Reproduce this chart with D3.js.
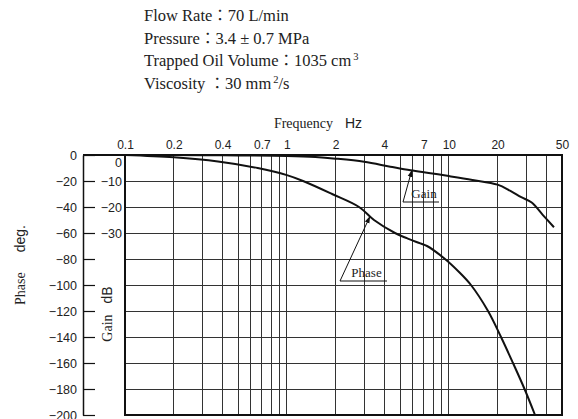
<!DOCTYPE html>
<html><head><meta charset="utf-8">
<script src="https://cdn.jsdelivr.net/npm/d3@7"></script>
<style>
body{margin:0;background:#fff;}
svg{display:block;}
</style></head>
<body><svg id="c" width="578" height="419"></svg>
<script>
const freqTickLabels = [0.1,0.2,0.4,0.7,1,2,4,7,10,20,50];
const freqGrid = [0.2,0.3,0.4,0.5,0.6,0.7,0.8,0.9,1,2,3,4,5,6,7,8,9,10,20,30,40];
const phaseTicks = [0,-20,-40,-60,-80,-100,-120,-140,-160,-180,-200];
const gainTicks = [0,-10,-20,-30];
const phaseFreq = [0.1,0.2,0.375,0.66,1,1.258,1.9,2.79,3.45,4.65,5.5,6.67,7.33,9.47,11.56,13.7,17.46,21,24.9,29.35,34.07];
const phaseVal  = [0,-1.8,-5,-10,-15.5,-20,-30,-40,-50,-60,-64,-68,-70,-80,-90,-100,-120,-140,-160,-180,-200];
const gainFreq = [0.1,0.3,0.5,1,1.5,2,3,4.35,5.8,7.7,10,14,20,24,28,32.5,38,44.6];
const gainVal  = [0,-0.05,-0.15,-0.4,-0.8,-1.4,-2.6,-4.5,-5.9,-7.0,-8.1,-9.6,-11.4,-13.8,-16.2,-18.3,-23,-27.8];
const infoKeys = ["Flow Rate","Pressure","Trapped Oil Volume","Viscosity "];
const infoVals = ["70 L/min","3.4 ± 0.7 MPa","1035 cm","30 mm"];

const svg = d3.select("#c");
const x = d3.scaleLog().domain([0.1,50]).range([125,562]);
const yP = d3.scaleLinear().domain([0,-200]).range([155,415]);
const yG = d3.scaleLinear().domain([0,-100]).range([155,415]);
const serif = "'Liberation Serif','Times New Roman',serif";
const sans = "'Liberation Sans',Arial,sans-serif";
const cjk = "'Noto Sans CJK JP','Noto Sans CJK SC',sans-serif";

// info text
const info = svg.append("g").attr("font-family",serif).attr("font-size",16.5).attr("fill","#222");
infoKeys.forEach((k,i)=>{
  const tx = info.append("text").attr("x",144).attr("y",21+i*22.5).attr("xml:space","preserve");
  tx.append("tspan").text(k);
  tx.append("tspan").attr("font-family",cjk).attr("font-size",15.5).text("：");
  tx.append("tspan").text(infoVals[i]);
  if(i===2){ tx.append("tspan").attr("font-size",10.5).attr("dy",-6).attr("dx",2).text("3"); }
  if(i===3){ tx.append("tspan").attr("font-size",10.5).attr("dy",-6).attr("dx",2).text("2");
             tx.append("tspan").attr("dy",6).text("/s"); }
});

// grid
const g = svg.append("g").attr("shape-rendering","crispEdges");
g.selectAll(".vg").data(freqGrid).join("line")
  .attr("x1",d=>x(d)).attr("x2",d=>x(d)).attr("y1",yP(0)).attr("y2",yP(-200))
  .attr("stroke","#333").attr("stroke-width",1);
g.selectAll(".hg").data(phaseTicks.filter(d=>d<0&&d>-200)).join("line")
  .attr("x1",x(0.1)).attr("x2",x(50)).attr("y1",d=>yP(d)).attr("y2",d=>yP(d))
  .attr("stroke","#333").attr("stroke-width",1);
// frame
g.append("rect").attr("x",x(0.1)).attr("y",yP(0)).attr("width",x(50)-x(0.1)).attr("height",yP(-200)-yP(0))
  .attr("fill","none").attr("stroke","#111").attr("stroke-width",1.5);
g.append("line").attr("x1",83).attr("x2",x(0.1)).attr("y1",yP(0)).attr("y2",yP(0)).attr("stroke","#111").attr("stroke-width",1.5);

// top frequency axis
const ax = svg.append("g").attr("transform",`translate(0,${yP(0)-3})`)
  .call(d3.axisTop(x).tickValues(freqTickLabels).tickFormat(d=>String(d)).tickSize(0).tickPadding(3));
ax.select(".domain").remove();
ax.selectAll("text").attr("font-family",sans).attr("font-size",12).attr("fill","#222");

// phase axis
const pa = svg.append("g").attr("transform","translate(83,0)")
  .call(d3.axisLeft(yP).tickValues(phaseTicks).tickFormat(d=>d===0?"0":"\u2212"+Math.abs(d)).tickSizeInner(-12).tickSizeOuter(0).tickPadding(6));
pa.select(".domain").attr("stroke","#111").attr("stroke-width",1.5);
pa.selectAll(".tick line").attr("stroke","#111").attr("stroke-width",1.2);
pa.selectAll("text").attr("font-family",sans).attr("font-size",12.5).attr("fill","#222");

// gain axis labels
const ga = svg.append("g").attr("transform",`translate(${x(0.1)},0)`)
  .call(d3.axisLeft(yG).tickValues(gainTicks).tickFormat(d=>d===0?"0":"\u2212"+Math.abs(d)).tickSize(0).tickPadding(3));
ga.select(".domain").remove();
ga.selectAll("text").attr("font-family",sans).attr("font-size",12.5).attr("fill","#222")
  .attr("dy",d=>d===0?"0.95em":"0.32em");

// axis titles
const ft = svg.append("text").attr("x",318).attr("y",128).attr("text-anchor","middle").attr("fill","#222");
ft.append("tspan").attr("font-family",serif).attr("font-size",14).text("Frequency");
ft.append("tspan").attr("font-family",sans).attr("font-size",14).attr("dx",12).text("Hz");

const pt = svg.append("text").attr("transform","translate(25,265) rotate(-90)").attr("text-anchor","middle").attr("fill","#222");
pt.append("tspan").attr("font-family",serif).attr("font-size",14).text("Phase");
pt.append("tspan").attr("font-family",sans).attr("font-size",14).attr("dx",20).text("deg.");

const gt = svg.append("text").attr("transform","translate(112,314) rotate(-90)").attr("text-anchor","middle").attr("fill","#222");
gt.append("tspan").attr("font-family",serif).attr("font-size",14).text("Gain");
gt.append("tspan").attr("font-family",sans).attr("font-size",14).attr("dx",11).text("dB");

// curves
const lineP = d3.line().x((d,i)=>x(phaseFreq[i])).y(d=>yP(d)).curve(d3.curveCatmullRom.alpha(0.5));
const lineG = d3.line().x((d,i)=>x(gainFreq[i])).y(d=>yG(d)).curve(d3.curveCatmullRom.alpha(0.5));
svg.append("path").attr("d",lineP(phaseVal)).attr("fill","none").attr("stroke","#111").attr("stroke-width",2);
svg.append("path").attr("d",lineG(gainVal)).attr("fill","none").attr("stroke","#111").attr("stroke-width",2);

// annotations
svg.append("defs").append("marker").attr("id","ah").attr("viewBox","0 0 10 10").attr("refX",9).attr("refY",5)
  .attr("markerWidth",7).attr("markerHeight",7).attr("orient","auto")
  .append("path").attr("d","M0,1.5 L10,5 L0,8.5 Z").attr("fill","#111");
function annot(label, fTip, vTip, yScale, bx, by, ulen){
  const tx = x(fTip), ty = yScale(vTip);
  svg.append("line").attr("x1",bx).attr("y1",by).attr("x2",tx).attr("y2",ty)
    .attr("stroke","#111").attr("stroke-width",1).attr("marker-end","url(#ah)");
  svg.append("line").attr("x1",bx).attr("y1",by).attr("x2",bx+ulen).attr("y2",by).attr("stroke","#111").attr("stroke-width",1);
  svg.append("text").attr("x",bx+ulen/2+3).attr("y",by-4).attr("text-anchor","middle")
    .attr("font-family",serif).attr("font-size",13).attr("fill","#222").text(label);
}
annot("Gain", 5.9, -6.0, yG, 403, 202, 36);
annot("Phase", 3.25, -47.5, yP, 340, 281, 47);
</script></body></html>
